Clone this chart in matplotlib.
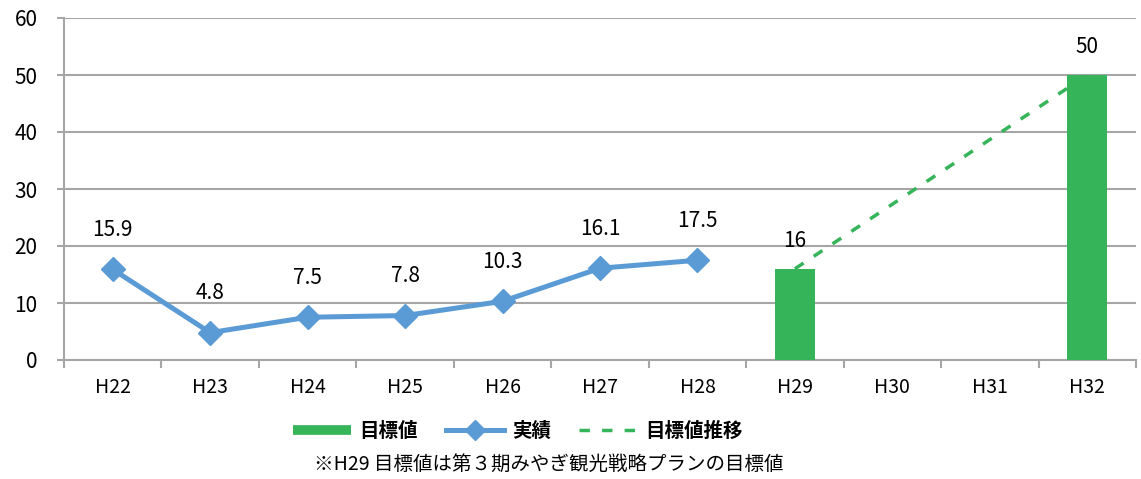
import matplotlib.pyplot as plt
from matplotlib.lines import Line2D
import numpy as np

plt.rcParams['font.family'] = ['Noto Sans CJK JP', 'DejaVu Sans']

years = ['H22', 'H23', 'H24', 'H25', 'H26', 'H27', 'H28', 'H29', 'H30', 'H31', 'H32']
actual = [15.9, 4.8, 7.5, 7.8, 10.3, 16.1, 17.5]
target_idx = [7, 10]
target = [16, 50]

green = '#35B45A'
blue = '#5B9BD5'
grid = '#A6A6A6'

fig = plt.figure(figsize=(11.41, 4.79), dpi=100)
ax = fig.add_axes([64 / 1141, 1 - 360 / 479, 1072 / 1141, 342 / 479])

x = np.arange(len(years))

# dashed target trend, drawn under the bars
ax.plot(target_idx, target, color=green, lw=2.5, ls=(0, (3, 3.5)), zorder=2)
ax.bar(target_idx, target, width=0.41, color=green, zorder=3)
ax.plot(x[:len(actual)], actual, color=blue, lw=3.6, marker='D', ms=12, zorder=4)

for xi, v in zip(x[:len(actual)], actual):
    ax.text(xi, v + 5.0, f'{v}', ha='center', va='bottom', fontsize=15)
for xi, v in zip(target_idx, target):
    ax.text(xi, v + 3.0, f'{v}', ha='center', va='bottom', fontsize=15)

ax.set_xlim(-0.5, len(years) - 0.5)
ax.set_ylim(0, 60)
ax.set_yticks(range(0, 61, 10))
ax.set_xticks(x)
ax.set_xticklabels(years)
ax.set_xticks(np.arange(-0.5, len(years)), minor=True)
ax.tick_params(axis='x', which='major', length=0, pad=12, labelsize=14)
ax.tick_params(axis='x', which='minor', length=6, color=grid, width=1.5)
ax.tick_params(axis='y', length=5, color=grid, width=1.5, labelsize=15, pad=14)
ax.grid(axis='y', color=grid, lw=1.5, zorder=0)
ax.set_axisbelow(True)
for s in ['top', 'right']:
    ax.spines[s].set_visible(False)
for s in ['left', 'bottom']:
    ax.spines[s].set_color(grid)
    ax.spines[s].set_linewidth(1.5)

handles = [
    Line2D([], [], color=green, lw=7, solid_capstyle='butt'),
    Line2D([], [], color=blue, lw=3.6, marker='D', ms=10),
    Line2D([], [], color=green, lw=2.5, ls=(0, (3, 3.5))),
]
labels = ['目標値', '実績', '目標値推移']
fig.legend(handles, labels, loc='center',
           bbox_to_anchor=(518 / 1141, 1 - 431 / 479), ncol=3, frameon=False,
           handlelength=3.0, handletextpad=0.4, columnspacing=1.45,
           prop={'weight': 'bold', 'size': 14})

fig.text(549 / 1141, 1 - 464 / 479, '※H29 目標値は第３期みやぎ観光戦略プランの目標値',
         ha='center', va='center', fontsize=14)

fig.savefig('out.png', dpi=100)
